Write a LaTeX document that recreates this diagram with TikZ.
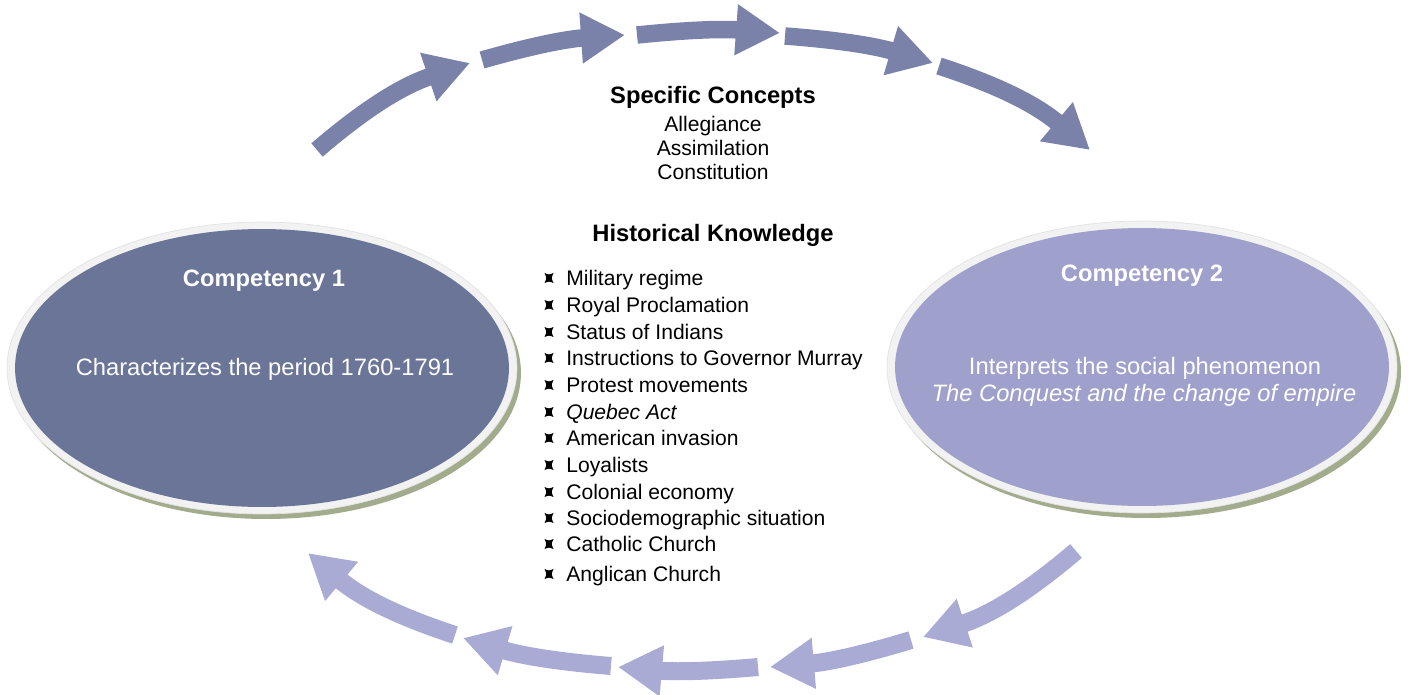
\documentclass[tikz,border=0pt]{standalone}
\usepackage{fontspec}
\setmainfont{Liberation Sans}
\usetikzlibrary{arrows.meta,shapes.geometric,calc}
\definecolor{topArrow}{HTML}{7B82AA}
\definecolor{botArrow}{HTML}{A9ABD4}
\definecolor{ellA}{HTML}{6B7598}
\definecolor{ellB}{HTML}{9FA0CB}
\definecolor{rimfill}{HTML}{F2F2F2}
\definecolor{rimedge}{HTML}{E2E2E2}
\definecolor{shade}{HTML}{A2AB8C}
\begin{document}
\begin{tikzpicture}[x=0.02cm,y=-0.02cm,
  toparrow/.style={draw=topArrow, line width=0.35cm, -{Triangle[length=0.88cm,width=0.96cm]}},
  botarrow/.style={draw=botArrow, line width=0.36cm, -{Triangle[length=0.88cm,width=0.96cm]}},
  rimell/.style={ellipse, fill=rimfill, draw=rimedge, line width=0.4pt, minimum width=10.2cm, minimum height=5.84cm, inner sep=0pt},
  shadowell/.style={ellipse, fill=shade, minimum width=10.2cm, minimum height=5.84cm, inner sep=0pt},
  innerell/.style={ellipse, minimum width=9.88cm, minimum height=5.56cm, inner sep=0pt},
  eltitle/.style={text=white, font=\fontsize{13.5}{16}\selectfont\bfseries, anchor=base},
  eltext/.style={text=white, font=\fontsize{13.5}{15.3}\selectfont, anchor=base},
  heading/.style={font=\fontsize{13.5}{16}\selectfont\bfseries, anchor=base},
  concept/.style={font=\fontsize{12}{14}\selectfont, anchor=base},
  item/.style={font=\fontsize{12}{14}\selectfont, anchor=base west, inner sep=0pt},
  kbullet/.pic={\fill[black] (-4.5,-5) .. controls (0,-3.2) .. (4.5,-5) .. controls (2.2,0) .. (4.5,5) .. controls (0,3.2) .. (-4.5,5) .. controls (-2.2,0) .. cycle;}
]
\useasboundingbox (0,0) rectangle (1408,694);

% ellipses
\node[shadowell] (s1) at (266,373) {};
\node[rimell] (r1) at (262,368) {};
\node[innerell, fill=ellA] (c1) at (262,368) {};
\node[shadowell] (s2) at (1146,372) {};
\node[rimell] (r2) at (1142,367) {};
\node[innerell, fill=ellB] (c2) at (1142,367) {};

\node[eltitle] (t1) at (264,286) {Competency 1};
\node[eltext] (d1) at (265,375) {Characterizes the period 1760-1791};
\node[eltitle] (t2) at (1142,281) {Competency 2};
\node[eltext] (d2) at (1145,374) {Interprets the social phenomenon};
\node[eltext] (d3) at (1144,401) {\itshape The Conquest and the change of empire};

% centre texts
\node[heading] (sc) at (713,103) {Specific Concepts};
\node[concept] (co1) at (713,131) {Allegiance};
\node[concept] (co2) at (713,155) {Assimilation};
\node[concept] (co3) at (713,179) {Constitution};
\node[heading] (hk) at (713,241) {Historical Knowledge};

\foreach \t/\y [count=\i] in {Military regime/278, Royal Proclamation/305, Status of Indians/332,
  Instructions to Governor Murray/358, Protest movements/385, {\textit{Quebec Act}}/412,
  American invasion/438, Loyalists/465, Colonial economy/492, Sociodemographic situation/518,
  Catholic Church/544, Anglican Church/574}{
  \node[item] (k\i) at (566,\y+7) {\t};
  \pic at (549,\y) {kbullet};
}

% top arrows
\coordinate (a1s) at (317,150); \coordinate (a1e) at (470,63);
\coordinate (a2s) at (482,60);  \coordinate (a2e) at (625,35);
\coordinate (a3s) at (637,35);  \coordinate (a3e) at (780,33);
\coordinate (a4s) at (785,36);  \coordinate (a4e) at (933,63);
\coordinate (a5s) at (939,66);  \coordinate (a5e) at (1090,150);
\draw[toparrow] (a1s) to[bend left=11] (a1e);
\draw[toparrow] (a2s) to[bend left=6] (a2e);
\draw[toparrow] (a3s) to[bend left=5] (a3e);
\draw[toparrow] (a4s) to[bend left=6] (a4e);
\draw[toparrow] (a5s) to[bend left=11] (a5e);

% bottom arrows
\coordinate (b1s) at (1076,551); \coordinate (b1e) at (923,637);
\coordinate (b2s) at (911,640);  \coordinate (b2e) at (770,667);
\coordinate (b3s) at (758,667);  \coordinate (b3e) at (618,667);
\coordinate (b4s) at (611,666);  \coordinate (b4e) at (463,638);
\coordinate (b5s) at (455,635);  \coordinate (b5e) at (308,553);
\draw[botarrow] (b1s) to[bend left=11] (b1e);
\draw[botarrow] (b2s) to[bend left=6] (b2e);
\draw[botarrow] (b3s) to[bend left=5] (b3e);
\draw[botarrow] (b4s) to[bend left=6] (b4e);
\draw[botarrow] (b5s) to[bend left=11] (b5e);
\end{tikzpicture}
\end{document}
